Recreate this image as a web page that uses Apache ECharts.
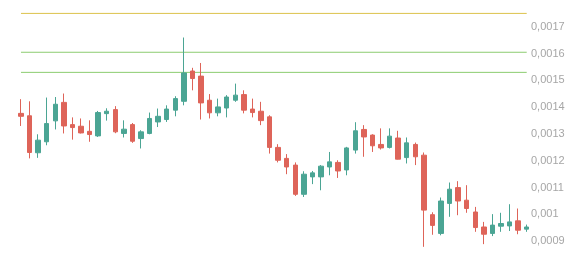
<!DOCTYPE html>
<html>
<head>
<meta charset="utf-8">
<script src="https://cdn.jsdelivr.net/npm/echarts@6/dist/echarts.min.js"></script>
<style>
html,body{margin:0;padding:0;background:#fff;}
#chart{width:584px;height:258px;}
</style>
</head>
<body>
<div id="chart"></div>
<script>
var categories = [];
for (var i = 1; i <= 60; i++) categories.push(String(i));

var opens = [0.001377,0.001368,0.001230,0.001271,0.001349,0.001418,0.001335,0.001329,0.001310,0.001293,
             0.001376,0.001391,0.001302,0.001335,0.001283,0.001302,0.001345,0.001354,0.001389,0.001422,
             0.001535,0.001516,0.001426,0.001379,0.001397,0.001426,0.001447,0.001393,0.001385,0.001364,
             0.001250,0.001209,0.001184,0.001075,0.001140,0.001140,0.001177,0.001194,0.001166,0.001240,
             0.001317,0.001296,0.001261,0.001250,0.001285,0.001212,0.001261,0.001221,0.000999,0.000929,
             0.001041,0.001100,0.001053,0.001009,0.000953,0.000929,0.000956,0.000957,0.000976,0.000945];
var closes = [0.001366,0.001231,0.001277,0.001339,0.001411,0.001330,0.001324,0.001304,0.001298,0.001380,
              0.001385,0.001308,0.001318,0.001273,0.001308,0.001358,0.001366,0.001393,0.001432,0.001528,
              0.001507,0.001416,0.001379,0.001401,0.001438,0.001445,0.001389,0.001380,0.001350,0.001250,
              0.001202,0.001177,0.001075,0.001150,0.001155,0.001180,0.001196,0.001162,0.001248,0.001312,
              0.001289,0.001256,0.001248,0.001292,0.001206,0.001267,0.001215,0.001016,0.000959,0.001050,
              0.001094,0.001050,0.001022,0.000951,0.000926,0.000960,0.000966,0.000972,0.000941,0.000953];
var lows = [0.001330,0.001209,0.001211,0.001258,0.001317,0.001302,0.001279,0.001302,0.001271,0.001289,
            0.001350,0.001303,0.001287,0.001267,0.001246,0.001299,0.001326,0.001345,0.001366,0.001407,
            0.001463,0.001354,0.001358,0.001366,0.001362,0.001420,0.001377,0.001362,0.001333,0.001227,
            0.001194,0.001150,0.001069,0.001065,0.001113,0.001090,0.001146,0.001136,0.001146,0.001227,
            0.001215,0.001233,0.001242,0.001246,0.001205,0.001190,0.001184,0.000879,0.000924,0.000922,
            0.000991,0.000997,0.001006,0.000935,0.000889,0.000919,0.000935,0.000938,0.000926,0.000935];
var highs = [0.001430,0.001422,0.001299,0.001436,0.001438,0.001451,0.001362,0.001358,0.001351,0.001386,
             0.001396,0.001404,0.001351,0.001341,0.001314,0.001380,0.001395,0.001407,0.001441,0.001660,
             0.001547,0.001565,0.001449,0.001432,0.001445,0.001488,0.001463,0.001432,0.001420,0.001370,
             0.001262,0.001225,0.001194,0.001161,0.001162,0.001184,0.001233,0.001202,0.001252,0.001344,
             0.001333,0.001299,0.001321,0.001321,0.001312,0.001287,0.001268,0.001231,0.001008,0.001063,
             0.001119,0.001124,0.001109,0.001028,0.000972,0.001001,0.001006,0.001038,0.001022,0.000962];

var levels = [0.00175, 0.001605, 0.00153];
var levelColors = ['#dcc24a', '#8ccc70', '#8ccc70'];

var upColor = '#4ba594';
var downColor = '#de6459';

var candleData = categories.map(function (c, i) {
  return [opens[i], closes[i], lows[i], highs[i]];
});

var levelSeries = levels.map(function (v, k) {
  return {
    type: 'line',
    silent: true,
    showSymbol: false,
    symbol: 'none',
    z: 1,
    color: levelColors[k],
    lineStyle: { color: levelColors[k], width: 1 },
    emphasis: { disabled: true },
    data: [[categories[0], v], [categories[categories.length - 1], v]]
  };
});

var chart = echarts.init(document.getElementById('chart'), null, { renderer: 'canvas' });
chart.setOption({
  animation: false,
  backgroundColor: '#ffffff',
  grid: { left: 16.7, right: 53, top: 0, height: 268, containLabel: false, outerBoundsMode: 'none' },
  xAxis: {
    type: 'category',
    data: categories,
    boundaryGap: true,
    axisLine: { show: false },
    axisTick: { show: false },
    axisLabel: { show: false },
    splitLine: { show: false }
  },
  yAxis: {
    type: 'value',
    position: 'right',
    min: 0.0008,
    max: 0.0018,
    interval: 0.0001,
    axisLine: { show: false },
    axisTick: { show: false },
    splitLine: { show: false },
    axisLabel: {
      margin: 0,
      showMinLabel: false,
      showMaxLabel: false,
      color: '#a6a6a6',
      fontSize: 11,
      fontFamily: 'Liberation Sans, Arial, sans-serif',
      formatter: function (v) { return String(Number(v.toFixed(5))).replace('.', ','); }
    }
  },
  series: [
    {
      type: 'candlestick',
      data: candleData,
      barWidth: 5,
      z: 2,
      itemStyle: {
        color: upColor,
        color0: downColor,
        borderColor: upColor,
        borderColor0: downColor,
        borderWidth: 1
      }
    }
  ].concat(levelSeries)
});
</script>
</body>
</html>
